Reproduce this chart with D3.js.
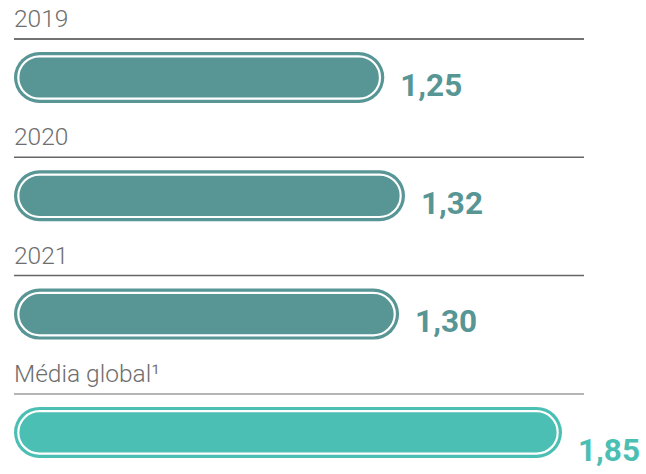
<!DOCTYPE html>
<html>
<head>
<meta charset="utf-8">
<script src="https://cdn.jsdelivr.net/npm/d3@7"></script>
<style>
  html, body { margin: 0; padding: 0; background: #ffffff; }
  svg { display: block; }
</style>
</head>
<body>
<svg id="chart" width="646" height="474"></svg>
<script>
// Rows of the chart: category name, value and the printed value label
const categories = ["2019", "2020", "2021", "Média global¹"];
const values = [1.25, 1.32, 1.30, 1.85];
const valueLabels = ["1,25", "1,32", "1,30", "1,85"];

const svg = d3.select("#chart");

const left = 14;
const x = d3.scaleLinear().domain([0, 1.85]).range([left, 562]);

// Vertical layout: each row is a title, a rule and a pill-shaped bar
const rowTop = d3.scaleLinear().domain([0, 1]).range([0, 118.3]);
const barH = 51;
const barOffset = 52;
const lineOffset = 39;
const titleOffset = 27;
const ruleEnd = 584;

const darkTeal = "#589595";
const lightTeal = "#4cbfb4";
const isGlobal = i => i === categories.length - 1;

const rows = svg.selectAll("g.row")
  .data(categories.map((c, i) => ({ c, v: values[i], label: valueLabels[i], i })))
  .join("g")
  .attr("class", "row")
  .attr("transform", d => `translate(0,${rowTop(d.i)})`);

rows.append("text")
  .attr("x", left)
  .attr("y", titleOffset)
  .attr("font-family", "Roboto, 'Open Sans', sans-serif")
  .attr("font-weight", 300)
  .attr("font-size", 24.5)
  .attr("fill", "#6e6e6e")
  .text(d => d.c);

rows.append("line")
  .attr("x1", left)
  .attr("x2", ruleEnd)
  .attr("y1", lineOffset)
  .attr("y2", lineOffset)
  .attr("stroke", d => isGlobal(d.i) ? "#9c9c9c" : (d.i === 0 ? "#444444" : "#666666"))
  .attr("stroke-width", 1.5);

rows.append("rect")
  .attr("x", left)
  .attr("y", barOffset)
  .attr("width", d => x(d.v) - left)
  .attr("height", barH)
  .attr("rx", barH / 2)
  .attr("fill", d => isGlobal(d.i) ? lightTeal : darkTeal);

// inner white outline inside each bar
const inset = 4.3;
rows.append("rect")
  .attr("x", left + inset)
  .attr("y", barOffset + inset)
  .attr("width", d => x(d.v) - left - 2 * inset)
  .attr("height", barH - 2 * inset)
  .attr("rx", (barH - 2 * inset) / 2)
  .attr("fill", "none")
  .attr("stroke", "#ffffff")
  .attr("stroke-width", 2.2);

rows.append("text")
  .attr("x", d => x(d.v) + 16)
  .attr("y", d => barOffset + barH / 2 + (isGlobal(d.i) ? 29 : 18))
  .attr("font-family", "Roboto, 'Open Sans', sans-serif")
  .attr("font-weight", 700)
  .attr("font-size", 31.5)
  .attr("fill", d => isGlobal(d.i) ? lightTeal : darkTeal)
  .text(d => d.label);
</script>
</body>
</html>
